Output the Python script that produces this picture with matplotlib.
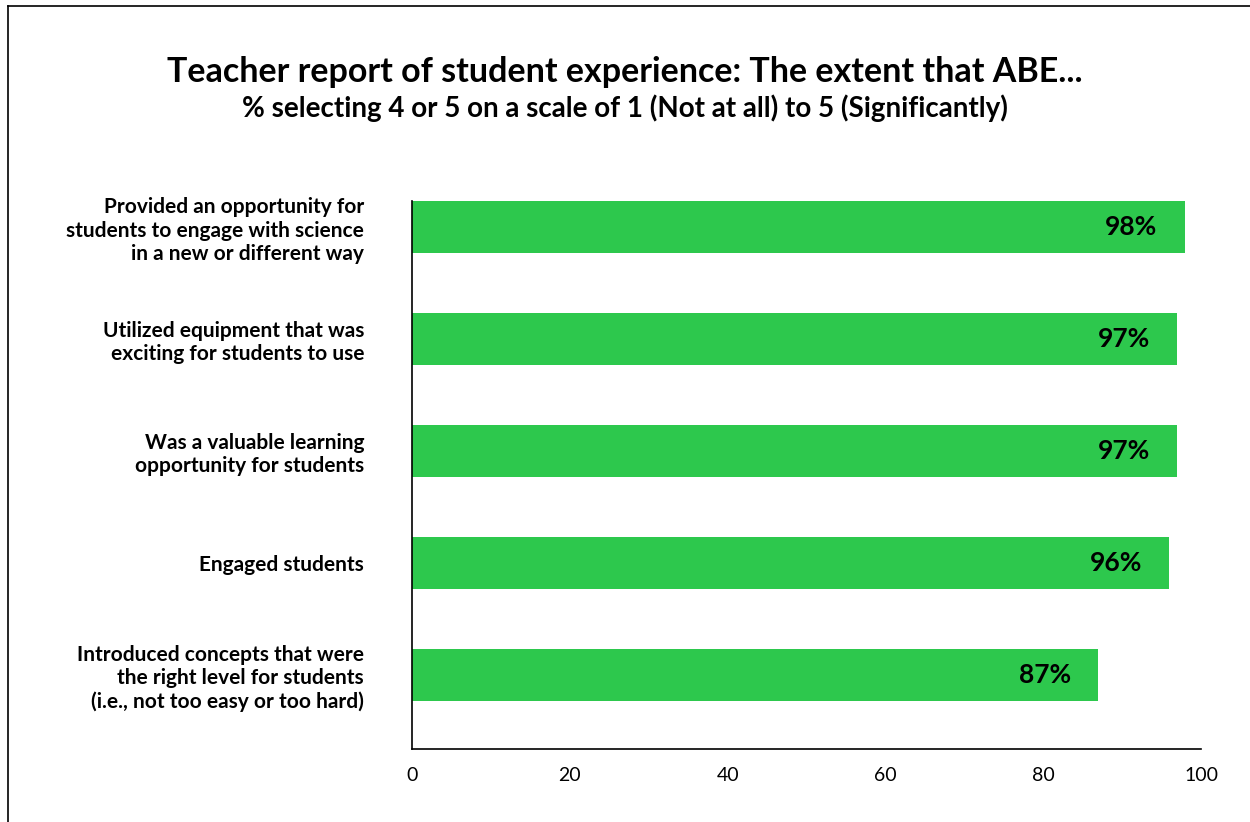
import numpy as np
import matplotlib.pyplot as plt
from matplotlib.lines import Line2D

plt.rcParams['font.family'] = ['Lato', 'DejaVu Sans']

kategorier = [
    "Provided an opportunity for\nstudents to engage with science\nin a new or different way",
    "Utilized equipment that was\nexciting for students to use",
    "Was a valuable learning\nopportunity for students",
    "Engaged students",
    "Introduced concepts that were\nthe right level for students\n(i.e., not too easy or too hard)",
]
verdier = [98, 97, 97, 96, 87]
x_ticks = [0, 20, 40, 60, 80, 100]

fig = plt.figure(figsize=(12.5, 8.22), dpi=100)
ax = fig.add_axes([412 / 1250, 1 - 749 / 822, (1201 - 412) / 1250, (749 - 201) / 822])

y = np.arange(len(kategorier))
ax.barh(y, verdier, height=0.464, color='#2DC84D')
for yi, v in zip(y, verdier):
    ax.text(v - 3.5, yi, f"{v}%", ha='right', va='center',
            fontsize=19, fontweight='bold', color='black')

ax.set_ylim(4.66, -0.232)
ax.set_xlim(0, 100)
ax.set_yticks(y)
ax.set_yticklabels(kategorier, fontsize=15, fontweight='bold', linespacing=1.2)
ax.set_xticks(x_ticks)
ax.set_xticklabels([str(t) for t in x_ticks], fontsize=14, color='black')
ax.tick_params(axis='both', length=0)
ax.tick_params(axis='y', pad=34.5)
ax.tick_params(axis='x', pad=13)
for s in ['top', 'right']:
    ax.spines[s].set_visible(False)
ax.spines['left'].set_linewidth(1.2)
ax.spines['bottom'].set_linewidth(1.2)

fig.text(0.5, 1 - 72 / 822, "Teacher report of student experience: The extent that ABE...",
         ha='center', va='center', fontsize=24.5, fontweight='bold')
fig.text(0.5, 1 - 108 / 822, "% selecting 4 or 5 on a scale of 1 (Not at all) to 5 (Significantly)",
         ha='center', va='center', fontsize=20, fontweight='bold')

# ramme oppe og til venstre
fig.add_artist(Line2D([8 / 1250, 8 / 1250], [0, 1 - 6 / 822], color='black', lw=1.2))
fig.add_artist(Line2D([8 / 1250, 1], [1 - 6 / 822, 1 - 6 / 822], color='black', lw=1.2))

fig.savefig('out.png', dpi=100)
